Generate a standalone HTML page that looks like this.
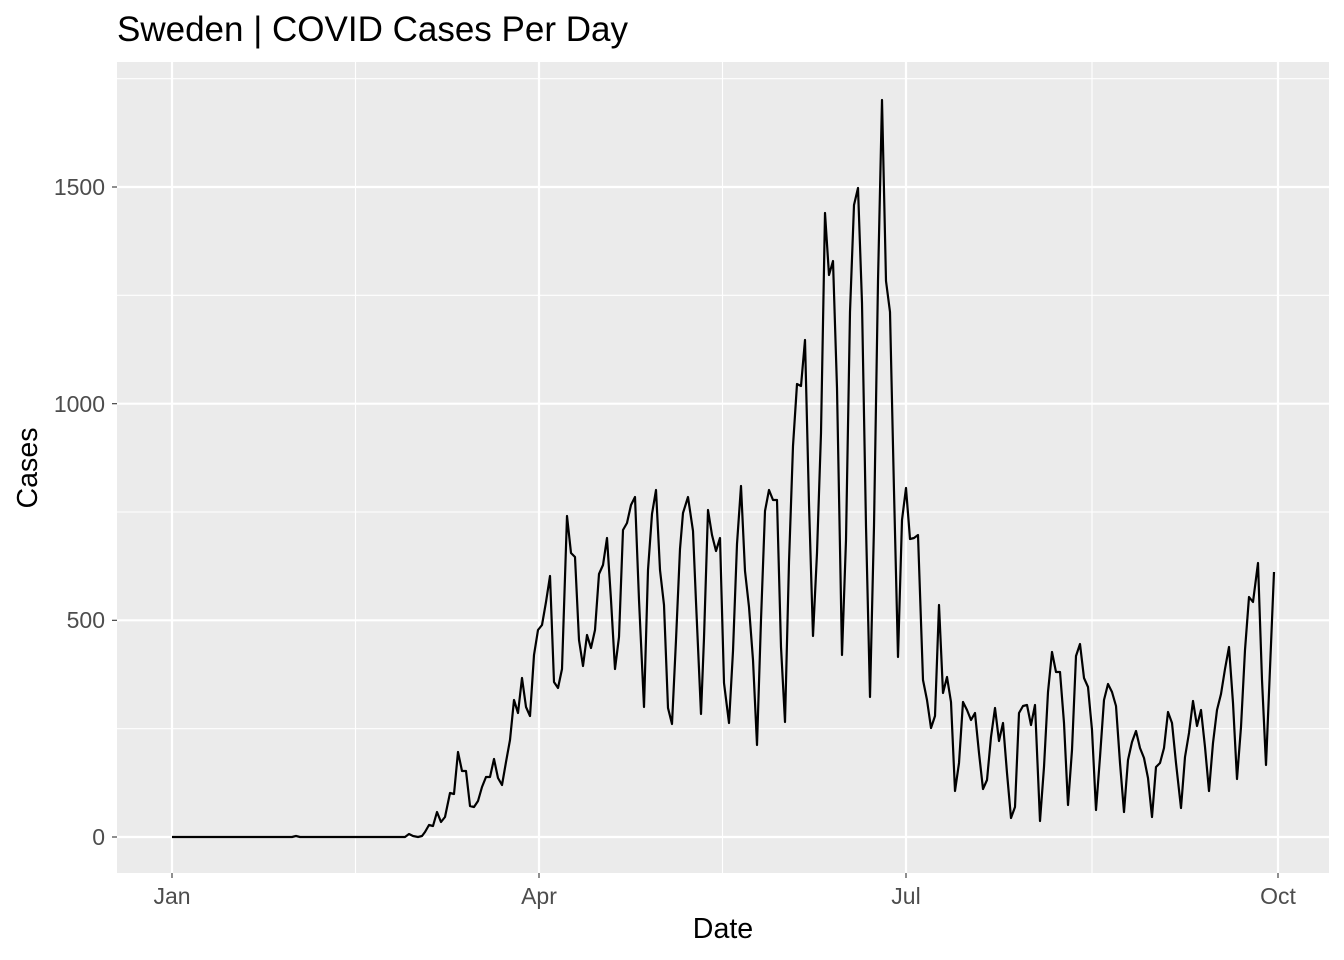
<!DOCTYPE html>
<html><head><meta charset="utf-8"><style>body{margin:0;background:#fff}svg{display:block}</style></head><body>
<svg width="1344" height="960" xmlns="http://www.w3.org/2000/svg" font-family="Liberation Sans, sans-serif">
<rect width="1344" height="960" fill="#fff"/>
<rect x="117" y="62" width="1212" height="811" fill="#ebebeb"/>
<g stroke="#fff" stroke-width="1.1">
<line x1="117" x2="1329" y1="728.7" y2="728.7"/><line x1="117" x2="1329" y1="512" y2="512"/><line x1="117" x2="1329" y1="295.3" y2="295.3"/><line x1="117" x2="1329" y1="78.7" y2="78.7"/>
<line y1="62" y2="873" x1="355.5" x2="355.5"/><line y1="62" y2="873" x1="722.5" x2="722.5"/><line y1="62" y2="873" x1="1092" x2="1092"/>
</g>
<g stroke="#fff" stroke-width="2.2">
<line x1="117" x2="1329" y1="837" y2="837"/><line x1="117" x2="1329" y1="620.3" y2="620.3"/><line x1="117" x2="1329" y1="403.7" y2="403.7"/><line x1="117" x2="1329" y1="187" y2="187"/>
<line y1="62" y2="873" x1="172" x2="172"/><line y1="62" y2="873" x1="539" x2="539"/><line y1="62" y2="873" x1="906" x2="906"/><line y1="62" y2="873" x1="1278" x2="1278"/>
</g>
<polyline fill="none" stroke="#000" stroke-width="2.2" stroke-linejoin="round" points="172,837 292,837 296,836 300,837 405,837 409,834 413,836 418,837 422,836 425,832 429,825 433,826 437,812 441,822 445,817 450,793 454,794 458,752 462,771 466,771 470,806 474,807 478,801 482,787 486,777 490,777 494,759 498,778 502,785 506,762 510,740 514,700 518,713 522,678 526,707 530,716 534,655 538,630 542,625 546,602 550,576 554,682 558,688 562,669 567,516 571,553 575,557 579,640 583,666 587,635 591,648 595,630 599,574 603,565 607,538 611,600 615,669 619,637 623,530 627,523 631,505 635,497 639,600 644,707 648,570 652,514 656,490 660,570 664,605 668,708 672,724 676,640 680,549 683,513 688,497 693,531 696,602 701,714 704,638 708,510 712,535 716,551 720,538 724,683 729,723 733,651 737,544 741,486 745,571 749,607 753,660 757,745 761,620 765,511 769,490 773,500 777,500 781,647 785,722 789,562 793,446 797,384 801,386 805,340 809,504 813,636 817,553 821,433 825,213 829,275 833,261 837,388 842,655 846,540 850,312 854,205 858,188 862,303 866,526 870,697 874,526 878,281 882,100 886,281 890,312 894,491 898,657 902,520 906,488 910,539 914,538 918,535 923,680 927,700 931,728 935,716 939,605 943,693 947,677 951,702 955,791 959,763 963,702 967,710 971,720 975,713 979,753 983,789 987,780 991,737 995,708 999,741 1003,723 1007,773 1011,818 1015,807 1019,713 1023,706 1027,705 1031,725 1035,705 1040,821 1044,767 1048,692 1052,652 1056,672 1060,672 1064,723 1068,805 1072,750 1076,656 1080,644 1084,678 1088,687 1092,730 1096,810 1100,757 1104,700 1108,684 1112,692 1116,706 1120,763 1124,812 1128,760 1132,742 1136,731 1140,748 1144,758 1148,778 1152,817 1156,767 1160,763 1164,748 1168,712 1172,723 1176,763 1181,808 1185,757 1189,733 1193,701 1197,726 1201,710 1205,747 1209,791 1213,743 1217,710 1221,694 1225,669 1229,647 1233,703 1237,779 1241,727 1245,650 1249,597 1253,602 1258,563 1262,680 1266,765 1274,572"/>
<g stroke="#333" stroke-width="1.1">
<line x1="112" x2="117" y1="837" y2="837"/><line x1="112" x2="117" y1="620.3" y2="620.3"/><line x1="112" x2="117" y1="403.7" y2="403.7"/><line x1="112" x2="117" y1="187" y2="187"/>
<line y1="873" y2="878" x1="172" x2="172"/><line y1="873" y2="878" x1="539" x2="539"/><line y1="873" y2="878" x1="906" x2="906"/><line y1="873" y2="878" x1="1278" x2="1278"/>
</g>
<g fill="#4d4d4d" font-size="23" text-anchor="end">
<text x="105" y="845">0</text><text x="105" y="628">500</text><text x="105" y="412">1000</text><text x="105" y="195">1500</text>
</g>
<g fill="#4d4d4d" font-size="23" text-anchor="middle">
<text x="172" y="904">Jan</text><text x="539" y="904">Apr</text><text x="906" y="904">Jul</text><text x="1278" y="904">Oct</text>
</g>
<text x="723" y="938" font-size="28.6" text-anchor="middle">Date</text>
<text transform="translate(37,468) rotate(-90)" font-size="28.6" text-anchor="middle">Cases</text>
<text x="117" y="41" font-size="35">Sweden | COVID Cases Per Day</text>
</svg>
</body></html>
